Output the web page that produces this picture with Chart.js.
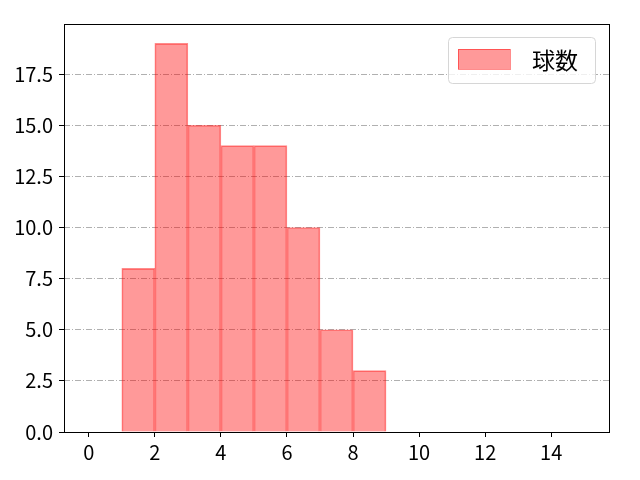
<!DOCTYPE html>
<html><head><meta charset="utf-8">
<script src="https://cdn.jsdelivr.net/npm/chart.js@4"></script>
<style>html,body{margin:0;padding:0;background:#fff}#wrap{width:640px;height:480px}</style>
</head><body><div id="wrap"><canvas id="c" width="640" height="480"></canvas></div>
<script>
const binStarts = [1, 2, 3, 4, 5, 6, 7, 8];
const counts = [8, 19, 15, 14, 14, 10, 5, 3];
const seriesLabel = '球数';
const xTicks = [0, 2, 4, 6, 8, 10, 12, 14];
const yTicks = [0, 2.5, 5, 7.5, 10, 12.5, 15, 17.5];

const FONT = '"Noto Sans CJK JP", "Noto Sans", sans-serif';

const framePlugin = {
  id: 'frame',
  afterDraw(chart) {
    const {ctx, chartArea: a} = chart;
    ctx.save();
    ctx.strokeStyle = '#000';
    ctx.lineWidth = 1;
    ctx.strokeRect(Math.round(a.left) + 0.5, Math.round(a.top) + 0.5, Math.round(a.right - a.left), Math.round(a.bottom - a.top));
    // legend
    const ds = chart.data.datasets[0];
    const bx = 448, by = 37, bw = 147, bh = 46, r = 4;
    ctx.fillStyle = 'rgba(255,255,255,0.8)';
    ctx.strokeStyle = '#d6d6d6';
    ctx.beginPath();
    ctx.roundRect(bx + 0.5, by + 0.5, bw, bh, r);
    ctx.fill();
    ctx.stroke();
    ctx.fillStyle = ds.backgroundColor;
    ctx.fillRect(458, 49, 52, 20);
    ctx.strokeStyle = ds.borderColor;
    ctx.strokeRect(458.5, 49.5, 52, 20);
    ctx.fillStyle = '#000';
    ctx.font = '23px ' + FONT;
    ctx.textBaseline = 'middle';
    ctx.textAlign = 'left';
    ctx.fillText(ds.label, 532, 60);
    ctx.restore();
  }
};

new Chart(document.getElementById('c'), {
  type: 'bar',
  data: {
    datasets: [{
      label: seriesLabel,
      data: binStarts.map((s, i) => ({x: s + 0.5, y: counts[i]})),
      backgroundColor: 'rgba(255,0,0,0.4)',
      borderColor: 'rgba(255,0,0,0.45)',
      borderWidth: 1,
      barPercentage: 1,
      categoryPercentage: 1
    }]
  },
  plugins: [framePlugin],
  options: {
    responsive: false,
    animation: false,
    devicePixelRatio: 1,
    layout: {padding: {top: 24, right: 31, left: 0, bottom: 0}},
    plugins: {legend: {display: false}, tooltip: {enabled: false}},
    scales: {
      x: {
        type: 'linear',
        offset: false,
        min: -0.75, max: 15.75,
        afterBuildTicks(s) { s.ticks = xTicks.map(v => ({value: v})); },
        afterFit(s) { s.height = 48; },
        grid: {offset: false, drawOnChartArea: false, drawTicks: true, tickLength: 5, tickColor: '#000', tickWidth: 1},
        border: {display: false},
        ticks: {color: '#000', font: {family: FONT, size: 20}, padding: 3, maxRotation: 0,
          callback: v => String(v)}
      },
      y: {
        type: 'linear',
        min: 0, max: 19.95,
        afterBuildTicks(s) { s.ticks = yTicks.map(v => ({value: v})); },
        afterFit(s) { s.width = 64; },
        grid: {drawOnChartArea: true, color: '#b0b0b0', lineWidth: 1, drawTicks: true, tickLength: 5, tickColor: '#000', tickWidth: 1, tickBorderDash: []},
        border: {display: false, dash: [6, 2, 1, 2]},
        ticks: {color: '#000', font: {family: FONT, size: 20}, padding: 6,
          callback: v => v.toFixed(1)}
      }
    }
  }
});
</script>
</body></html>
